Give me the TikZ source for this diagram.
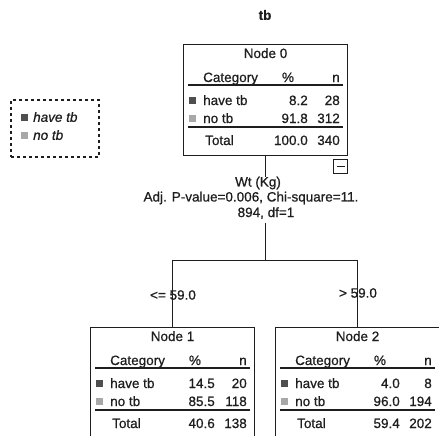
\documentclass[tikz,border=0pt]{standalone}
\usepackage{fontspec}
\setmainfont{Liberation Sans}[FakeBold=0.7]
\usetikzlibrary{calc}
\definecolor{cHave}{HTML}{4F4F4F}
\definecolor{cNo}{HTML}{A8A8A8}
\definecolor{cInk}{HTML}{1E1E1E}
\tikzset{
  treebox/.style={draw=cInk,line width=1.1pt,minimum width=164pt,minimum height=111pt,
                  anchor=north west,inner sep=0pt},
  cell/.style={font=\fontsize{13.5}{15}\selectfont,text=cInk,inner sep=0pt},
  rule/.style={line width=1.4pt,draw=cInk},
  branch/.style={line width=1pt,draw=cInk},
  swatch/.style={minimum size=7pt,inner sep=0pt},
  note/.style={font=\fontsize{13.5}{15}\selectfont,text=cInk,inner sep=0pt}
}

\begin{document}
\begin{tikzpicture}[x=1pt,y=-1pt]
  \useasboundingbox[fill=white] (0,0) rectangle (439,436);
  \node[note,font=\fontsize{13.5}{15}\selectfont\bfseries] (target) at (265,15) {tb};

  % legend
  \node[draw=cInk,dashed,line width=1.2pt,minimum width=88pt,minimum height=57pt,
        inner sep=0pt] (legend) at (55,128.5) {};
  \node[swatch,fill=cHave] (keyhave) at (24,117) {};
  \node[cell,anchor=west,font=\fontsize{13.5}{15}\selectfont\itshape] at ($(keyhave)+(9,0)$) {have tb};
  \node[swatch,fill=cNo] (keyno) at (24,135) {};
  \node[cell,anchor=west,font=\fontsize{13.5}{15}\selectfont\itshape] at ($(keyno)+(9,0)$) {no tb};

  % tree nodes
  \foreach \b/\x/\y/\pa/\na/\pb/\nb/\pt/\nt in {0/183/44/8.2/28/91.8/312/100.0/340,
      1/90/327/14.5/20/85.5/118/40.6/138, 2/275/327/4.0/8/96.0/194/59.4/202} {
    \node[treebox] (box\b) at (\x,\y) {};
    \node[cell,anchor=base] at ($(box\b.north)+(0,14)$) {Node \b};
    \node[cell,anchor=base west] at ($(box\b.north west)+(20,38)$) {Category};
    \node[cell,anchor=base] at ($(box\b.north west)+(105,38)$) {\%};
    \node[cell,anchor=base east] at ($(box\b.north west)+(157,38)$) {n};
    \draw[rule] ($(box\b.north west)+(5,41)$) -- ($(box\b.north west)+(160,41)$);
    \node[swatch,fill=cHave] at ($(box\b.north west)+(9,56)$) {};
    \node[cell,anchor=base west] at ($(box\b.north west)+(20,61)$) {have tb};
    \node[cell,anchor=base east] at ($(box\b.north west)+(125,61)$) {\pa};
    \node[cell,anchor=base east] at ($(box\b.north west)+(157,61)$) {\na};
    \node[swatch,fill=cNo] at ($(box\b.north west)+(9,74)$) {};
    \node[cell,anchor=base west] at ($(box\b.north west)+(20,79)$) {no tb};
    \node[cell,anchor=base east] at ($(box\b.north west)+(125,79)$) {\pb};
    \node[cell,anchor=base east] at ($(box\b.north west)+(157,79)$) {\nb};
    \draw[rule] ($(box\b.north west)+(5,83)$) -- ($(box\b.north west)+(160,83)$);
    \node[cell,anchor=base west] at ($(box\b.north west)+(22,101)$) {Total};
    \node[cell,anchor=base east] at ($(box\b.north west)+(125,101)$) {\pt};
    \node[cell,anchor=base east] at ($(box\b.north west)+(157,101)$) {\nt};
  }

  \node[draw=cInk,line width=1pt,minimum size=14pt,inner sep=0pt,anchor=north east]
    (toggle) at ($(box0.south east)+(0,3)$) {};
  \draw[line width=1pt,draw=cInk] ($(toggle.center)+(-4,0)$) -- ($(toggle.center)+(4,0)$);

  % split
  \node[note] (split) at (258,183) {Wt (Kg)};
  \node[note] (splitstat) at (251,198) {Adj. P-value=0.006, Chi-square=11.};
  \node[note] (splitdf) at (266,213) {894, df=1};
  \coordinate (fork) at ($(box0.south)+(0,104)$);
  \draw[branch] (box0.south) -- (box0.south |- split.north);
  \draw[branch] ($(fork)+(0,-37)$) -- (fork);
  \draw[branch] (box1.north |- fork) -- (box2.north |- fork);
  \draw[branch] (box1.north |- fork) -- (box1.north);
  \draw[branch] (box2.north |- fork) -- (box2.north);
  \node[note] (lowbranch) at (173,295) {<= 59.0};
  \node[note] (highbranch) at (358,293) {> 59.0};
\end{tikzpicture}
\end{document}
